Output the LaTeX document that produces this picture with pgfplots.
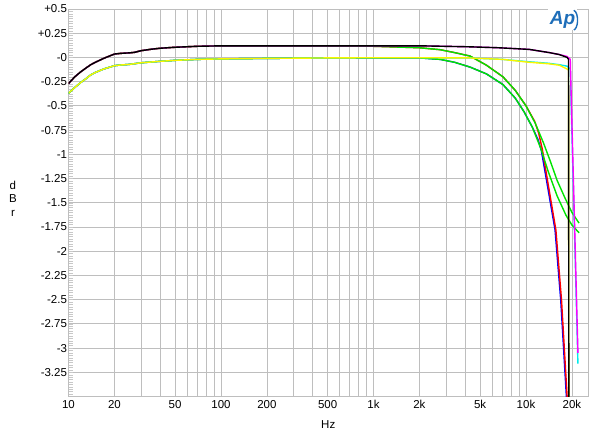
\documentclass[border=0pt]{standalone}
\usepackage{pgfplots}
\pgfplotsset{compat=1.18}
\usepackage{fontspec}
\setmainfont{Liberation Sans}
\definecolor{gridgray}{RGB}{190,190,190}
\definecolor{tickgray}{RGB}{200,200,200}
\definecolor{cgreen}{RGB}{0,228,0}
\definecolor{cyellow}{RGB}{250,245,0}
\definecolor{ccyan}{RGB}{0,235,235}
\definecolor{cmag}{RGB}{255,0,255}
\definecolor{cred}{RGB}{255,0,0}
\definecolor{cblue}{RGB}{0,0,255}
\definecolor{apblue}{RGB}{30,110,185}
\begin{document}
\begin{tikzpicture}
\useasboundingbox (-68.5bp,-47.5bp) rectangle (531.5bp,396.5bp);
\begin{axis}[
  at={(0,0)}, anchor=south west, scale only axis,
  width=519.5bp, height=387.5bp,
  xmode=log, xmin=10, xmax=25500, ymin=-3.5, ymax=0.5,
  xtick={10,20,50,100,200,500,1000,2000,5000,10000,20000},
  xticklabels={10,20,50,100,200,500,1k,2k,5k,10k,20k},
  minor xtick={30,40,60,70,80,90,300,400,600,700,800,900,3000,4000,6000,7000,8000,9000},
  ytick={-3.25,-3,-2.75,-2.5,-2.25,-2,-1.75,-1.5,-1.25,-1,-0.75,-0.5,-0.25,0,0.25,0.5},
  yticklabels={-3.25,-3,-2.75,-2.5,-2.25,-2,-1.75,-1.5,-1.25,-1,-0.75,-0.5,-0.25,-0,+0.25,+0.5},
  minor ytick={-3.5,-3.475,...,0.5},
  xmajorgrids, xminorgrids, ymajorgrids, yminorgrids=false,
  major grid style={gridgray, line width=0.8bp},
  minor grid style={gridgray, line width=0.8bp},
  axis line style={gridgray, line width=0.8bp},
  xtick style={draw=none},
  ytick pos=left, tick align=inside,
  ytick style={tickgray, line width=0.4bp},
  major tick length=5bp, minor tick length=5bp,
  tick label style={font=\fontsize{11.5bp}{13.5bp}\selectfont},
  yticklabel style={xshift=2bp},
  label style={font=\fontsize{11.5bp}{13.5bp}\selectfont},
  xlabel={Hz},
  xlabel style={at={(axis description cs:0.5,0)}, anchor=center, yshift=-28.5bp},
  ylabel={\begin{tabular}{@{}c@{}}d\\B\\r\end{tabular}},
  ylabel style={rotate=-90, at={(axis description cs:-0.107,0.507)}, anchor=center},
  every axis plot/.append style={no markers, line width=1.4bp, line join=round},
]
% blue
\addplot[cblue] coordinates {
(10,-0.37) (11,-0.31) (12,-0.26) (13,-0.22) (14,-0.18) (15,-0.155) (17,-0.12) (20,-0.085) (22,-0.078) (25,-0.072) (27,-0.065) (30,-0.055) (40,-0.04) (50,-0.03) (70,-0.02) (100,-0.015) (200,-0.01) (500,-0.005) (1000,-0.005) (2000,-0.005) (2730,-0.02) (3400,-0.05) (4300,-0.1) (5500,-0.17) (7060,-0.28) (8500,-0.42) (9700,-0.56) (11000,-0.72) (12000,-0.85) (12600,-0.96) (13600,-1.26) (15500,-1.78) (16900,-2.51) (18400,-3.5) (18800,-3.8)};
% red
\addplot[cred] coordinates {
(10,-0.27) (11,-0.2) (12,-0.15) (13,-0.11) (14,-0.075) (15,-0.05) (17,-0.01) (20,0.035) (22,0.042) (25,0.047) (27,0.052) (30,0.07) (35,0.085) (40,0.095) (50,0.105) (70,0.115) (100,0.115) (1000,0.115) (2000,0.1) (2730,0.08) (3400,0.05) (4300,0.014) (5500,-0.08) (7060,-0.2) (8500,-0.34) (10000,-0.5) (11400,-0.66) (12100,-0.78) (12800,-0.95) (13800,-1.26) (15700,-1.78) (17100,-2.51) (18600,-3.5) (19000,-3.8)};
% green 1 (upper)
\addplot[cgreen] coordinates {
(10,-0.27) (11,-0.2) (12,-0.15) (13,-0.11) (14,-0.075) (15,-0.05) (17,-0.01) (20,0.035) (22,0.042) (25,0.047) (27,0.052) (30,0.07) (35,0.085) (40,0.095) (50,0.105) (70,0.115) (100,0.115) (1000,0.115) (2000,0.1) (2730,0.08) (3400,0.05) (4300,0.014) (5500,-0.08) (7060,-0.2) (8500,-0.34) (10000,-0.5) (11500,-0.68) (13000,-0.88) (14500,-1.08) (16000,-1.27) (18000,-1.45) (20000,-1.6) (22270,-1.71)};
% green 2 (lower)
\addplot[cgreen] coordinates {
(10,-0.37) (11,-0.31) (12,-0.26) (13,-0.22) (14,-0.18) (15,-0.155) (17,-0.12) (20,-0.085) (22,-0.078) (25,-0.072) (27,-0.065) (30,-0.055) (40,-0.04) (50,-0.03) (70,-0.02) (100,-0.015) (200,-0.01) (500,-0.005) (1000,-0.005) (2000,-0.005) (2730,-0.02) (3400,-0.05) (4300,-0.1) (5500,-0.17) (7060,-0.28) (8500,-0.42) (9700,-0.56) (11000,-0.72) (12500,-0.94) (14000,-1.18) (16000,-1.43) (18300,-1.63) (20000,-1.73) (22270,-1.81)};
% cyan
\addplot[ccyan] coordinates {
(10,-0.37) (11,-0.31) (12,-0.26) (13,-0.22) (14,-0.18) (15,-0.155) (17,-0.12) (20,-0.085) (22,-0.078) (25,-0.072) (27,-0.065) (30,-0.055) (40,-0.04) (50,-0.03) (70,-0.02) (100,-0.015) (200,-0.01) (500,-0.005) (1000,-0.003) (2000,-0.003) (4200,-0.005) (7000,-0.02) (10500,-0.045) (14000,-0.06) (16500,-0.075) (18600,-0.09) (19500,-0.12) (21900,-3.16)};
% magenta
\addplot[cmag] coordinates {
(10,-0.27) (11,-0.2) (12,-0.15) (13,-0.11) (14,-0.075) (15,-0.05) (17,-0.01) (20,0.035) (22,0.042) (25,0.047) (27,0.052) (30,0.07) (35,0.085) (40,0.095) (50,0.105) (70,0.115) (100,0.12) (1000,0.12) (2000,0.12) (4200,0.11) (6600,0.1) (10500,0.083) (14200,0.05) (16500,0.03) (18600,0.01) (19500,-0.02) (21900,-3.05)};
% yellow
\addplot[cyellow] coordinates {
(10,-0.37) (11,-0.31) (12,-0.26) (13,-0.22) (14,-0.18) (15,-0.155) (17,-0.12) (20,-0.085) (22,-0.078) (25,-0.072) (27,-0.065) (30,-0.055) (40,-0.04) (50,-0.03) (70,-0.02) (100,-0.015) (200,-0.01) (500,-0.005) (1000,-0.003) (2000,-0.003) (4200,-0.005) (7000,-0.02) (10500,-0.05) (14000,-0.065) (16500,-0.08) (18600,-0.12) (19000,-0.13) (19100,-3.7)};
% black
\addplot[black] coordinates {
(10,-0.27) (11,-0.2) (12,-0.15) (13,-0.11) (14,-0.075) (15,-0.05) (17,-0.01) (20,0.035) (22,0.042) (25,0.047) (27,0.052) (30,0.07) (35,0.085) (40,0.095) (50,0.105) (70,0.115) (100,0.12) (1000,0.12) (2000,0.12) (4200,0.11) (6600,0.1) (10500,0.083) (14200,0.05) (16500,0.03) (18600,0.0) (19000,-0.02) (19100,-3.7)};
\end{axis}
\node[fill=white, inner sep=1.5bp, text=apblue, font=\fontsize{19bp}{19bp}\selectfont\bfseries\itshape] (ap) at (494bp,377bp) {Ap};
\draw[apblue, line width=1.4bp] ([xshift=-3bp,yshift=-1bp]ap.north east) arc[start angle=80, end angle=-80, x radius=4.5bp, y radius=10bp];
\end{tikzpicture}
\end{document}
